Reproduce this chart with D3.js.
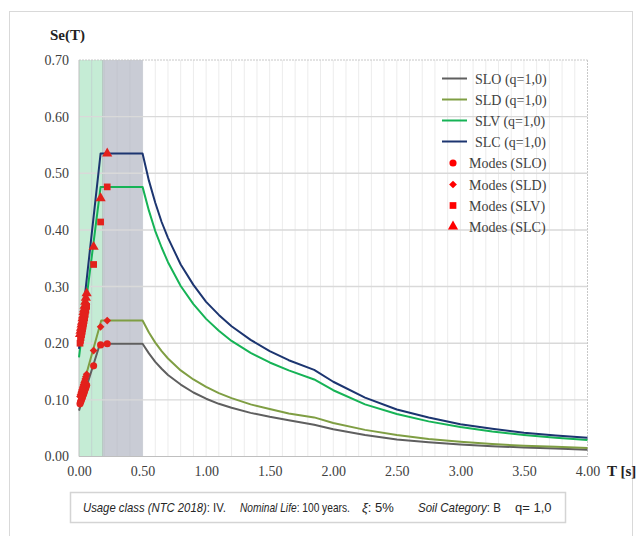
<!DOCTYPE html>
<html><head><meta charset="utf-8">
<script src="https://cdn.jsdelivr.net/npm/d3@7"></script>
<style>body{margin:0;background:#fff}svg{display:block}</style>
</head><body><svg id="c" width="641" height="536"></svg>
<script>
// ---- data ----
const seriesNames = ["SLO (q=1,0)", "SLD (q=1,0)", "SLV (q=1,0)", "SLC (q=1,0)"];
const modeNames = ["Modes (SLO)", "Modes (SLD)", "Modes (SLV)", "Modes (SLC)"];
const xTicks = [0, 0.5, 1, 1.5, 2, 2.5, 3, 3.5, 4];
const yTicks = [0, 0.1, 0.2, 0.3, 0.4, 0.5, 0.6, 0.7];
const bandGreen = [0, 0.186];
const bandGray = [0.186, 0.5];

const T_SLO = [0, 0.165, 0.5, 0.55, 0.6, 0.65, 0.7, 0.8, 0.9, 1.0, 1.1, 1.2, 1.35, 1.5, 1.65, 1.85, 2.0, 2.25, 2.5, 2.75, 3.0, 3.25, 3.5, 3.75, 4.0];
const SE_SLO = [0.081, 0.199, 0.199, 0.182, 0.167, 0.155, 0.144, 0.127, 0.113, 0.102, 0.093, 0.086, 0.077, 0.070, 0.064, 0.056, 0.048, 0.038, 0.030, 0.025, 0.021, 0.018, 0.016, 0.014, 0.012];
const T_SLD = [0, 0.175, 0.5, 0.55, 0.6, 0.65, 0.7, 0.8, 0.9, 1.0, 1.1, 1.2, 1.35, 1.5, 1.65, 1.85, 2.0, 2.25, 2.5, 2.75, 3.0, 3.25, 3.5, 3.75, 4.0];
const SE_SLD = [0.099, 0.240, 0.240, 0.219, 0.201, 0.186, 0.173, 0.152, 0.136, 0.123, 0.112, 0.103, 0.092, 0.084, 0.076, 0.069, 0.059, 0.047, 0.038, 0.031, 0.026, 0.022, 0.019, 0.017, 0.015];
const T_SLV = [0, 0.17, 0.5, 0.55, 0.6, 0.65, 0.7, 0.8, 0.9, 1.0, 1.1, 1.2, 1.35, 1.5, 1.65, 1.85, 2.0, 2.25, 2.5, 2.75, 3.0, 3.25, 3.5, 3.75, 4.0];
const SE_SLV = [0.175, 0.476, 0.476, 0.434, 0.398, 0.369, 0.343, 0.301, 0.269, 0.243, 0.222, 0.204, 0.183, 0.166, 0.152, 0.136, 0.117, 0.092, 0.075, 0.062, 0.052, 0.044, 0.038, 0.033, 0.029];
const T_SLC = [0, 0.17, 0.5, 0.55, 0.6, 0.65, 0.7, 0.8, 0.9, 1.0, 1.1, 1.2, 1.35, 1.5, 1.65, 1.85, 2.0, 2.25, 2.5, 2.75, 3.0, 3.25, 3.5, 3.75, 4.0];
const SE_SLC = [0.190, 0.535, 0.535, 0.487, 0.448, 0.414, 0.386, 0.339, 0.303, 0.273, 0.250, 0.230, 0.206, 0.186, 0.170, 0.153, 0.132, 0.104, 0.083, 0.069, 0.057, 0.049, 0.042, 0.037, 0.033];

const modeT = [0.222, 0.17, 0.115, 0.06, 0.054, 0.049, 0.044, 0.04, 0.036, 0.032, 0.028, 0.024, 0.02, 0.016, 0.012, 0.008];
const modeSE_SLO = [0.199, 0.197, 0.160, 0.126, 0.122, 0.119, 0.116, 0.113, 0.111, 0.108, 0.106, 0.103, 0.101, 0.098, 0.096, 0.093];
const modeSE_SLD = [0.240, 0.229, 0.187, 0.145, 0.141, 0.137, 0.133, 0.130, 0.127, 0.124, 0.121, 0.118, 0.115, 0.112, 0.109, 0.106];
const modeSE_SLV = [0.476, 0.414, 0.339, 0.265, 0.258, 0.251, 0.245, 0.240, 0.235, 0.230, 0.225, 0.220, 0.215, 0.210, 0.205, 0.200];
const modeSE_SLC = [0.535, 0.456, 0.370, 0.288, 0.280, 0.273, 0.266, 0.260, 0.255, 0.249, 0.244, 0.238, 0.233, 0.227, 0.222, 0.216];

// info line groups: [italic label, plain value]
const infoGroups = [
  ["Usage class (NTC 2018)", ": IV."],
  ["Nominal Life", ": 100 years."],
  ["ξ", ": 5%"],
  ["Soil Category", ": B"],
  ["", "q= 1,0"]
];

// ---- setup ----
const svg = d3.select("#c");
const x = d3.scaleLinear().domain([0, 4]).range([79, 587.5]);
const y = d3.scaleLinear().domain([0, 0.7]).range([456.5, 60]);
const colors = ["#5f5f5f", "#7f9e43", "#16b356", "#1c3570"];
const red = "#e3211c";
const serif = "'Liberation Serif','Times New Roman',serif";

// outer frame
svg.append("rect").attr("x", 9.5).attr("y", 11.5).attr("width", 623).attr("height", 560)
  .attr("fill", "none").attr("stroke", "#d9d9d9").attr("stroke-width", 1);

// bands
svg.append("rect").attr("x", x(bandGreen[0])).attr("y", y(0.7)).attr("width", x(bandGreen[1]) - x(bandGreen[0]))
  .attr("height", y(0) - y(0.7)).attr("fill", "#c5ecd5");
svg.append("rect").attr("x", x(bandGray[0])).attr("y", y(0.7)).attr("width", x(bandGray[1]) - x(bandGray[0]))
  .attr("height", y(0) - y(0.7)).attr("fill", "#c9ccd5");
svg.append("line").attr("x1", x(bandGreen[1])).attr("x2", x(bandGreen[1])).attr("y1", y(0.7)).attr("y2", y(0))
  .attr("stroke", "#b3c4bd").attr("stroke-width", 1);

// minor vertical grid
const minor = d3.range(1, 40).map(i => i / 10);
svg.append("g").selectAll("line").data(minor).join("line")
  .attr("x1", d => x(d)).attr("x2", d => x(d)).attr("y1", y(0.7)).attr("y2", y(0))
  .attr("stroke", d => (d <= 0.5 ? "#bfc3cb" : "#ececec")).attr("stroke-width", 1)
  .attr("stroke-opacity", d => (d <= 0.5 ? 0.6 : 1));

// horizontal major grid
svg.append("g").selectAll("line").data(yTicks.filter(v => v > 0 && v < 0.7)).join("line")
  .attr("x1", x(0)).attr("x2", x(4)).attr("y1", d => y(d)).attr("y2", d => y(d))
  .attr("stroke", "#d9d9d9").attr("stroke-width", 1.4);
// top dashed & right dotted
svg.append("line").attr("x1", x(0)).attr("x2", x(4)).attr("y1", y(0.7)).attr("y2", y(0.7))
  .attr("stroke", "#c8c8c8").attr("stroke-width", 1).attr("stroke-dasharray", "2,1");
svg.append("line").attr("x1", x(4)).attr("x2", x(4)).attr("y1", y(0.7)).attr("y2", y(0))
  .attr("stroke", "#c8c8c8").attr("stroke-width", 1).attr("stroke-dasharray", "2,1");
// axes lines
svg.append("line").attr("x1", x(0)).attr("x2", x(0)).attr("y1", y(0.7)).attr("y2", y(0))
  .attr("stroke", "#bfbfbf").attr("stroke-width", 1);
svg.append("line").attr("x1", x(0)).attr("x2", x(4)).attr("y1", y(0)).attr("y2", y(0))
  .attr("stroke", "#bfbfbf").attr("stroke-width", 1.2);

// axes labels via d3 axes
const yAxis = d3.axisLeft(y).tickValues(yTicks).tickFormat(d3.format(".2f")).tickSize(0).tickPadding(10);
const gy = svg.append("g").attr("transform", `translate(${x(0)},0)`).call(yAxis);
gy.select(".domain").remove();
gy.selectAll("text").attr("font-family", serif).attr("font-size", 14).attr("fill", "#404040");
const xAxis = d3.axisBottom(x).tickValues(xTicks).tickFormat(d3.format(".2f")).tickSize(0).tickPadding(10);
const gx = svg.append("g").attr("transform", `translate(0,${y(0)})`).call(xAxis);
gx.select(".domain").remove();
gx.selectAll("text").attr("font-family", serif).attr("font-size", 14).attr("fill", "#404040");

svg.append("text").attr("x", 50).attr("y", 40).text("Se(T)")
  .attr("font-family", serif).attr("font-size", 15).attr("font-weight", "bold").attr("fill", "#222");
svg.append("text").attr("x", 607).attr("y", 476).text("T [s]")
  .attr("font-family", serif).attr("font-size", 15).attr("font-weight", "bold").attr("fill", "#222");

// spectrum lines
const line = d3.line().x(d => x(d[0])).y(d => y(d[1]));
const spectra = [[T_SLO, SE_SLO], [T_SLD, SE_SLD], [T_SLV, SE_SLV], [T_SLC, SE_SLC]];
spectra.forEach((s, i) => {
  svg.append("path").datum(s[0].map((t, k) => [t, s[1][k]]))
    .attr("d", line).attr("fill", "none").attr("stroke", colors[i]).attr("stroke-width", 2)
    .attr("stroke-linejoin", "round");
});

// mode markers
const symbols = [d3.symbolCircle, d3.symbolSquare, d3.symbolSquare, d3.symbolTriangle];
const sizes = [40, 30, 45, 45];
const rots = [0, 45, 0, 0];
const modes = [modeSE_SLO, modeSE_SLD, modeSE_SLV, modeSE_SLC];
modes.forEach((m, i) => {
  svg.append("g").selectAll("path").data(modeT.map((t, k) => [t, m[k]])).join("path")
    .attr("transform", d => `translate(${x(d[0])},${y(d[1])}) rotate(${rots[i]})`)
    .attr("d", d3.symbol().type(symbols[i]).size(sizes[i])).attr("fill", red);
});

// legend
const rowsY = [78.5, 99.5, 120.5, 141.5, 163, 184.5, 205.5, 226.5];
const lg = svg.append("g");
seriesNames.forEach((n, i) => {
  lg.append("line").attr("x1", 442).attr("x2", 467).attr("y1", rowsY[i]).attr("y2", rowsY[i])
    .attr("stroke", colors[i]).attr("stroke-width", 2);
  lg.append("text").attr("x", 475).attr("y", rowsY[i] + 5).text(n)
    .attr("font-family", serif).attr("font-size", 14).attr("fill", "#404040");
});
modeNames.forEach((n, i) => {
  const yy = rowsY[i + 4];
  lg.append("path").attr("transform", `translate(453,${yy}) rotate(${rots[i]})`)
    .attr("d", d3.symbol().type(symbols[i]).size(sizes[i])).attr("fill", "#ff0000");
  lg.append("text").attr("x", 469).attr("y", yy + 5).text(n)
    .attr("font-family", serif).attr("font-size", 14).attr("fill", "#404040");
});

// info box
svg.append("rect").attr("x", 70.5).attr("y", 492.5).attr("width", 495).attr("height", 30)
  .attr("fill", "#fff").attr("stroke", "#d4d4d4").attr("stroke-width", 1.5);
const sans = "'Liberation Sans',Arial,sans-serif";
const infoX = [83, 240, 362, 418, 515];
const infoW = [143, 110, 45, 83, 37];
infoGroups.forEach((g, i) => {
  const t = svg.append("text").attr("x", 0).attr("y", 0)
    .attr("font-family", sans).attr("font-size", 13).attr("fill", "#262626");
  if (g[0]) t.append("tspan").attr("font-style", "italic").text(g[0]);
  t.append("tspan").text(g[1]);
  const len = t.node().getComputedTextLength();
  const s = Math.min(1, infoW[i] / len);
  t.attr("transform", `translate(${infoX[i]},512) scale(${s},1)`);
});
</script></body></html>
